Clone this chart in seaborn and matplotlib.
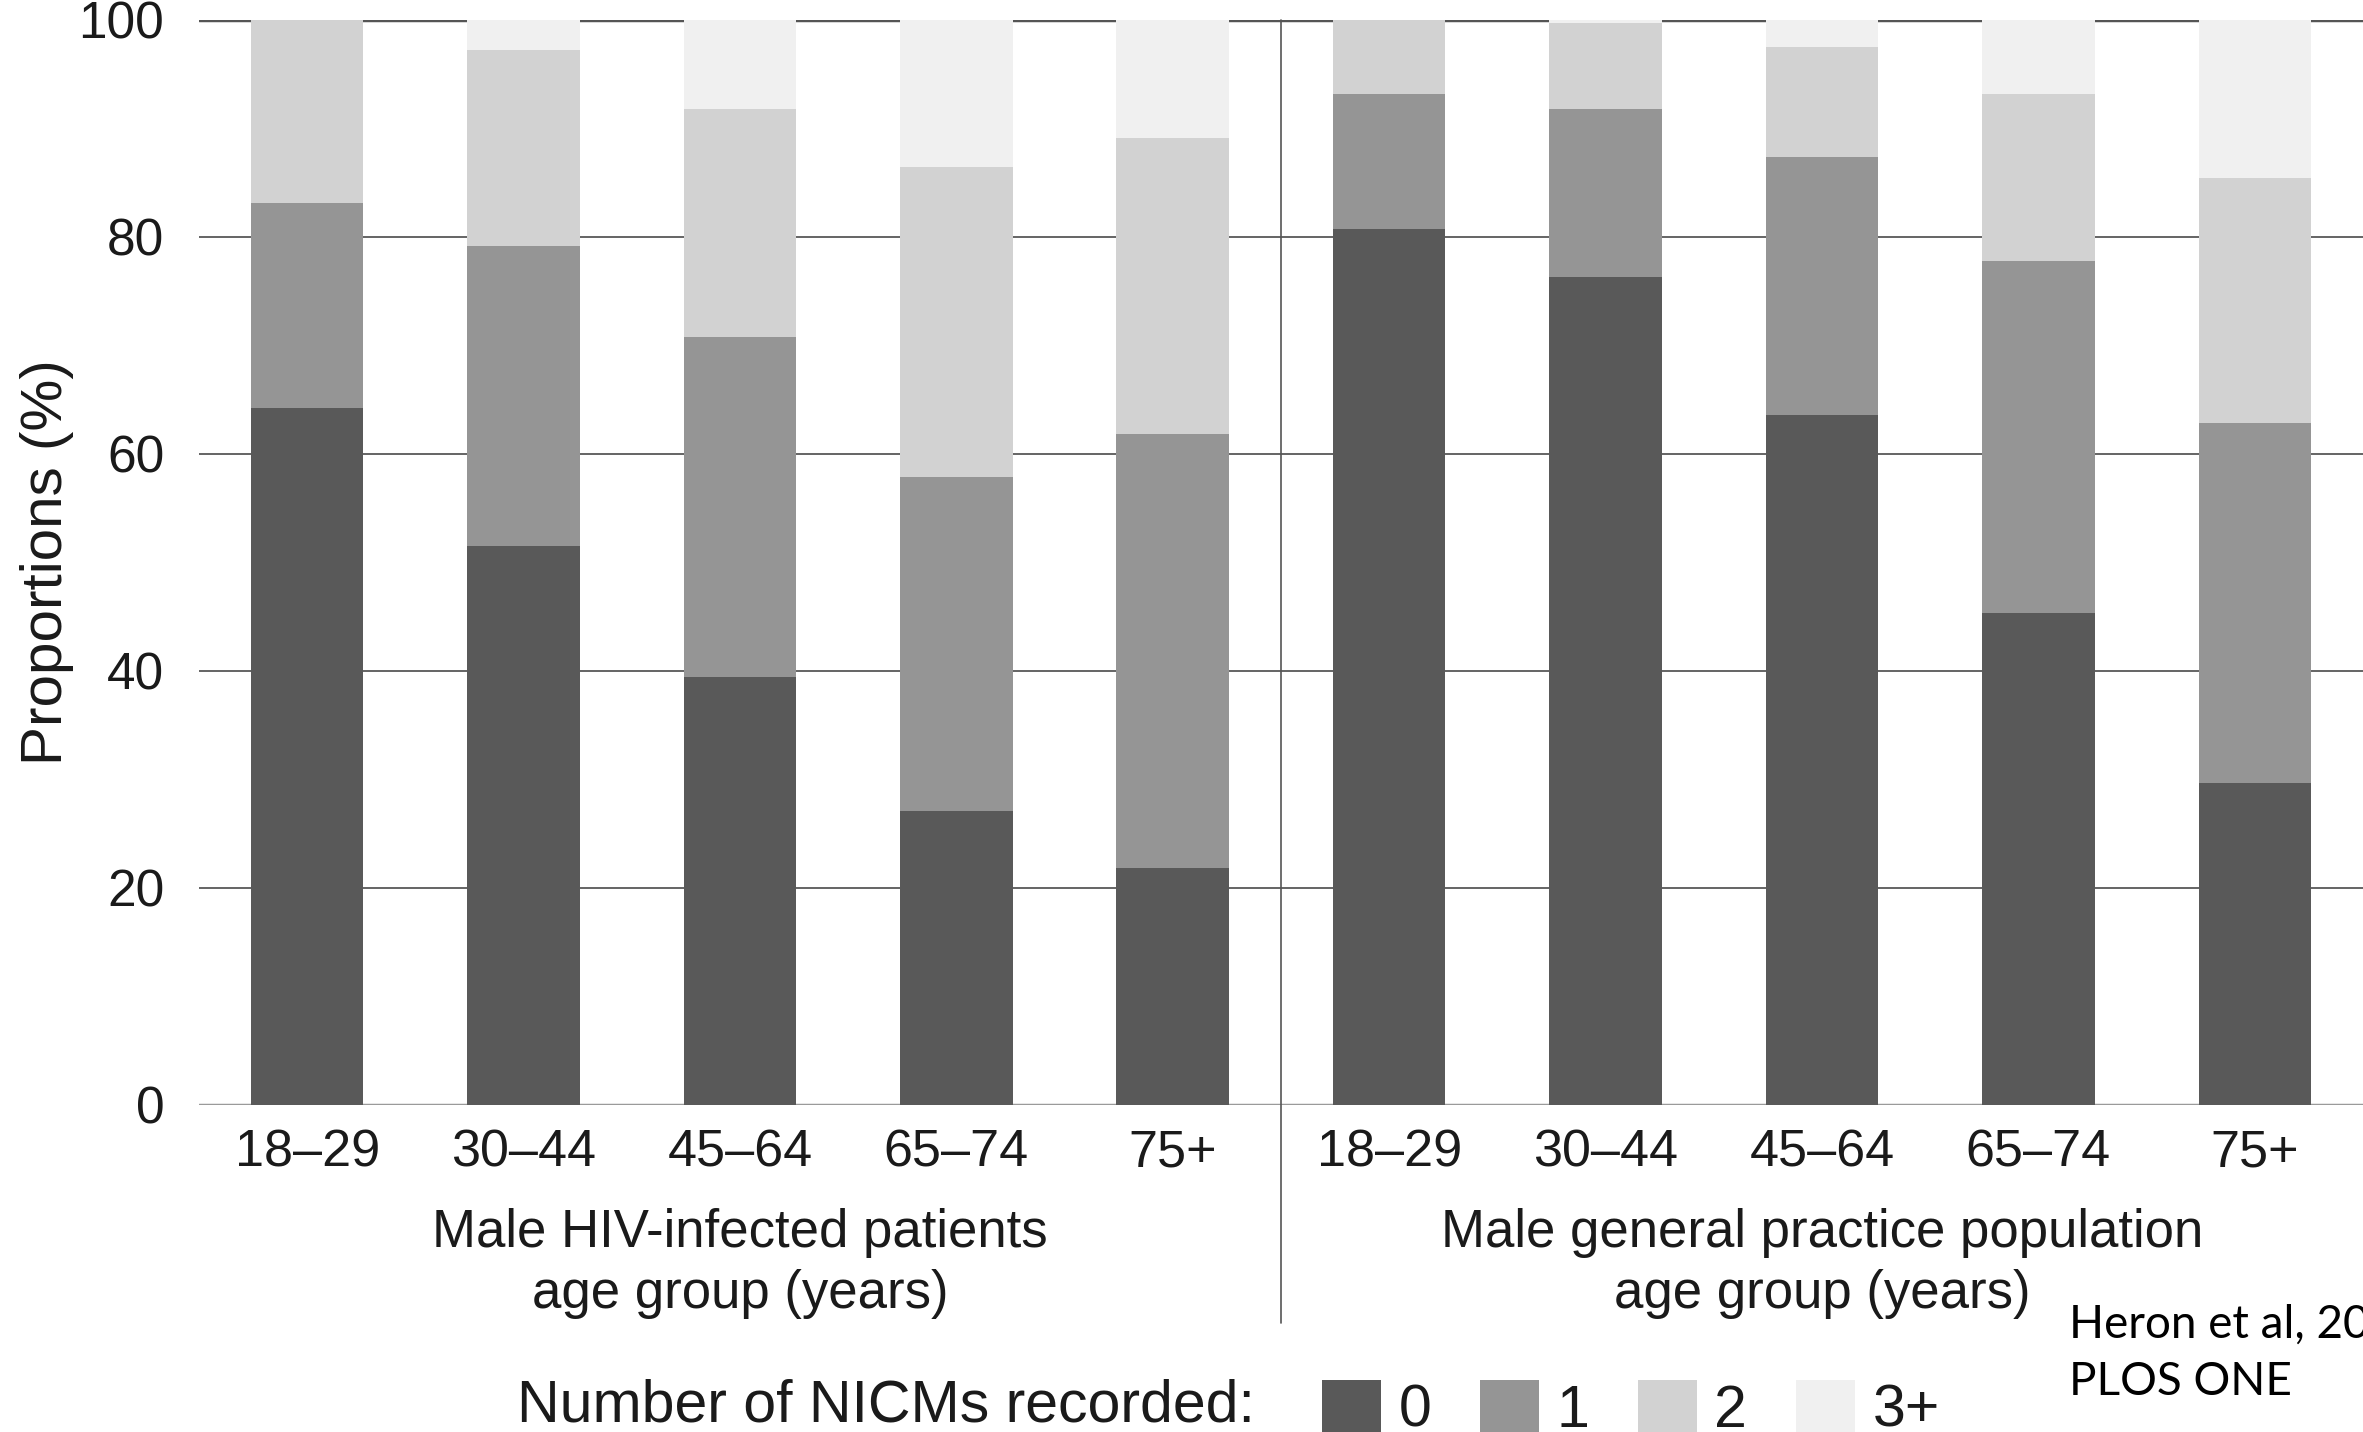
import matplotlib
matplotlib.use("Agg")
import matplotlib.pyplot as plt
import matplotlib.transforms as mtransforms
from matplotlib.patches import Patch
import seaborn as sns
import pandas as pd
import numpy as np

# ---- data ----
age_groups = ["18–29", "30–44", "45–64", "65–74", "75+"]
populations = ["Male HIV-infected patients\nage group (years)",
               "Male general practice population\nage group (years)"]
levels = ["0", "1", "2", "3+"]
level_colors = ["#595959", "#959595", "#d2d2d2", "#f0f0f0"]

# proportions (%) per age group for each number of NICMs (0, 1, 2, 3+)
hiv_0 = [64.2, 51.5, 39.4, 27.1, 21.8]
hiv_1 = [18.9, 27.6, 31.4, 30.8, 40.0]
hiv_2 = [16.9, 18.1, 21.0, 28.5, 27.3]
hiv_3 = [0.0, 2.8, 8.2, 13.6, 10.9]
gp_0 = [80.7, 76.3, 63.6, 45.3, 29.7]
gp_1 = [12.4, 15.5, 23.7, 32.5, 33.1]
gp_2 = [6.9, 7.9, 10.2, 15.3, 22.6]
gp_3 = [0.0, 0.3, 2.5, 6.9, 14.6]

yticks = [0, 20, 40, 60, 80, 100]
source_lines = ["Heron et al, 2019", "PLOS ONE"]

# ---- build table ----
rows = []
for pop_i, vals in enumerate([(hiv_0, hiv_1, hiv_2, hiv_3), (gp_0, gp_1, gp_2, gp_3)]):
    for a_i, age in enumerate(age_groups):
        slot = pop_i * len(age_groups) + a_i
        cum = 0.0
        for lv, series in zip(levels, vals):
            cum += series[a_i]
            rows.append(dict(slot=slot, age=age, level=lv, cum=cum))
df = pd.DataFrame(rows)

sns.set_theme(style="white")
plt.rcParams["font.family"] = ["Liberation Sans", "DejaVu Sans"]
TXT = "#1a1a1a"

W, H = 2363, 1432
fig = plt.figure(figsize=(W / 100, H / 100), dpi=100)
ax = fig.add_axes([132 / 1568, 1 - 733 / 950, 1 - 132 / 1568, (733 - 13) / 950])

# stacked bars: draw cumulative totals from top level down
for lv, col in reversed(list(zip(levels, level_colors))):
    sub = df[df.level == lv]
    sns.barplot(data=sub, x="slot", y="cum", color=col, width=0.52,
                saturation=1, linewidth=0, errorbar=None, ax=ax, zorder=2)

ax.set_xlim(-0.5, 9.5)
ax.set_ylim(0, 100)
ax.set_yticks(yticks)
ax.set_yticklabels([str(t) for t in yticks])
ax.set_xticks(range(10))
ax.set_xticklabels(age_groups * 2)
ax.tick_params(axis="y", length=0, pad=25, labelsize=37, labelcolor=TXT)
ax.tick_params(axis="x", length=0, pad=17, labelsize=37.5, labelcolor=TXT)
ax.set_xlabel("")
ax.set_ylabel("Proportions (%)", fontsize=42, color=TXT, labelpad=3)

for s in ax.spines.values():
    s.set_visible(False)
ax.set_axisbelow(True)
ax.yaxis.grid(True, color="#3a3a3a", linewidth=1.1)
ax.axhline(0, color="#9a9a9a", linewidth=2.5, zorder=1.5)
ax.axhline(100, color="#555555", linewidth=2.5, zorder=1.5)

# separator between populations
trans = mtransforms.blended_transform_factory(ax.transData, ax.transAxes)
ax.plot([4.5, 4.5], [1.0, -0.2014], transform=trans, color="#555555",
        linewidth=1.2, clip_on=False, zorder=3)

# population labels
for i, lab in enumerate(populations):
    ax.text(2 + 5 * i, -0.146, lab, transform=trans, ha="center", va="center",
            fontsize=38, color=TXT, linespacing=1.3)

# legend
fig.text(343 / 1568, 1 - 933 / 950, "Number of NICMs recorded:", ha="left",
         va="center", fontsize=42.5, color=TXT)
handles = [Patch(facecolor=c, edgecolor="none") for c in level_colors]
leg = fig.legend(handles, levels, ncol=4, loc="center left",
                 bbox_to_anchor=(877 / 1568, 1 - 935 / 950), frameon=False,
                 fontsize=42.5, handlelength=1.0, handleheight=1.0,
                 handletextpad=0.3, columnspacing=0.82, borderpad=0,
                 borderaxespad=0)
for t in leg.get_texts():
    t.set_color(TXT)

# source note
for yy, line in zip([878.6, 917.0], source_lines):
    fig.text(1373 / 1568, 1 - yy / 950, line, ha="left", va="center",
             fontsize=33, color="#000000", family=["Lato", "DejaVu Sans"])

fig.savefig("out.png", dpi=100)
